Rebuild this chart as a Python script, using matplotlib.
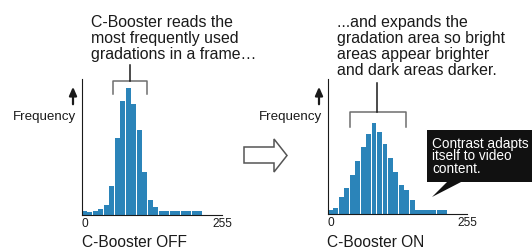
"""
C-Booster histogram illustration: gradation frequency before and after.
"""

import matplotlib.pyplot as plt
from matplotlib.patches import Polygon, Rectangle

# gradation bins (lower edge, width) and frequencies
bins_off = [0, 10, 20, 30, 40, 50, 60, 70, 80, 90, 100, 110, 120, 130,
            140, 160, 180, 200]
widths_off = [10] * 14 + [20] * 4
freq_off = [4, 3, 4, 6, 10, 29, 77, 114, 127, 111, 85, 43, 15, 8,
            4, 4, 4, 4]

bins_on = [0, 10, 20, 30, 40, 50, 60, 70, 80, 90, 100, 110, 120, 130,
           140, 150, 160, 180, 200]
widths_on = [10] * 16 + [20] * 3
freq_on = [4, 6, 17, 26, 39, 53, 67, 80, 91, 82, 70, 56, 42, 29, 24, 14,
           4, 4, 4]

tick_values = [0, 255]
tick_labels = ["0", "255"]

text_off = ["C-Booster reads the", "most frequently used",
            "gradations in a frame\u2026"]
text_on = ["...and expands the", "gradation area so bright",
           "areas appear brighter", "and dark areas darker."]
text_callout = ["Contrast adapts", "itself to video", "content."]

BAR = "#2b84b9"
INK = "#1a1a1a"
W, H = 532, 250

plt.rcParams["font.family"] = ["Liberation Sans", "DejaVu Sans"]

fig = plt.figure(figsize=(W / 100, H / 100), dpi=100)


def hist_panel(rect, left, widths, freq, ymax):
    """Draw one histogram panel at pixel rect (x0, y_top, w, h)."""
    x0, top, w, h = rect
    ax = fig.add_axes([x0 / W, (H - top - h) / H, w / W, h / H])
    ax.bar(left, freq, width=[b - 1.1 for b in widths], align="edge",
           color=BAR, linewidth=0)
    ax.set_xlim(0, 255)
    ax.set_ylim(0, ymax)
    for s in ("top", "right"):
        ax.spines[s].set_visible(False)
    for s in ("left", "bottom"):
        ax.spines[s].set_color(INK)
        ax.spines[s].set_linewidth(0.8)
    ax.set_yticks([])
    ax.set_xticks(tick_values, tick_labels)
    ax.tick_params(axis="x", length=0, labelsize=8.6, pad=2.5, colors=INK)
    ax.get_xticklabels()[0].set_ha("left")
    return ax


hist_panel((82, 79, 140, 136), bins_off, widths_off, freq_off, 136)
hist_panel((328, 79, 139, 135), bins_on, widths_on, freq_on, 135)

# overlay in pixel coordinates for the annotations
ov = fig.add_axes([0, 0, 1, 1])
ov.set_xlim(0, W)
ov.set_ylim(H, 0)
ov.axis("off")


def lines(x, baselines, texts, size, color=INK):
    for y, t in zip(baselines, texts):
        ov.text(x, y, t, fontsize=size, color=color, va="baseline", ha="left")


lines(91, [27, 42.8, 58.6], text_off, 11.4)
lines(337, [27, 43, 59, 75], text_on, 11.4)

# brackets
ov.plot([113, 113, 147, 147], [94, 81, 81, 94], color="#6e6e6e", lw=1.1)
ov.plot([130, 130], [65, 81], color=INK, lw=1.1)
ov.plot([350, 350, 406, 406], [127, 112, 112, 127], color="#6e6e6e", lw=1.1)
ov.plot([377, 377], [83, 112], color=INK, lw=1.1)

# frequency arrows and labels
for x_arrow, x_label in ((73, 76), (319, 322)):
    ov.annotate("", xy=(x_arrow, 84), xytext=(x_arrow, 107),
                arrowprops=dict(arrowstyle="-|>,head_width=0.22,head_length=0.5",
                                color=INK, lw=1.6))
    ov.text(x_label, 117, "Frequency", fontsize=9.6, color=INK,
            ha="right", va="center")

# bottom captions
ov.text(82, 247, "C-Booster OFF", fontsize=11.2, color=INK, va="baseline")
ov.text(327, 247, "C-Booster ON", fontsize=11.2, color=INK, va="baseline")

# hollow arrow between panels
ov.add_patch(Polygon([(244, 147), (274, 147), (274, 139), (287, 155.5),
                      (274, 172), (274, 163), (244, 163)],
                     closed=True, facecolor="white", edgecolor="#555555",
                     lw=1.1))

# callout
ov.add_patch(Rectangle((427, 130), 105, 52, facecolor="#111111",
                       edgecolor="none"))
ov.add_patch(Polygon([(448, 181), (463, 181), (432, 197)], closed=True,
                     facecolor="#111111", edgecolor="none"))
lines(432, [147.7, 160.5, 173], text_callout, 9.8, color="white")

fig.savefig("out.png", dpi=100)
